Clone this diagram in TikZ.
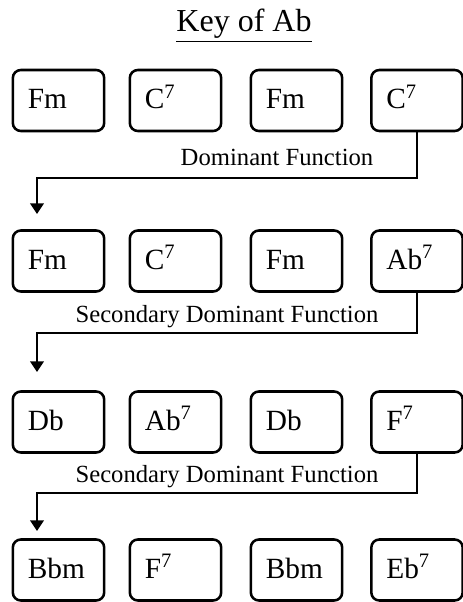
\documentclass[tikz,border=0pt]{standalone}
\usepackage{fontspec}
\setmainfont{Liberation Serif}
\usetikzlibrary{arrows.meta}
\begin{document}
\begin{tikzpicture}[x=0.75pt,y=-0.75pt,
  chord/.style={draw,line width=1.9pt,rounded corners=6pt,minimum height=45.75pt,
    text width=46pt,inner xsep=11.25pt,inner ysep=0pt,align=left,
    text height=12pt,text depth=0pt,font=\fontsize{22}{25}\selectfont},
  arr/.style={line width=1.9pt,-{Triangle[width=10pt,length=8pt]}},
  lab/.style={anchor=base,inner sep=0pt,font=\fontsize{18.5}{22}\selectfont}]
\useasboundingbox (0,0) rectangle (463,602);
\node[anchor=base,inner sep=0pt,font=\fontsize{24}{28}\selectfont] (title) at (244,32) {\underline{Key of Ab}};
% row 1
\node[chord] (a1) at (58.5,100.5) {Fm};
\node[chord] (a2) at (175.5,100.5) {C\textsuperscript{7}};
\node[chord] (a3) at (296.5,100.5) {Fm};
\node[chord] (a4) at (417,100.5) {C\textsuperscript{7}};
% row 2
\node[chord] (b1) at (58.5,261) {Fm};
\node[chord] (b2) at (175.5,261) {C\textsuperscript{7}};
\node[chord] (b3) at (296.5,261) {Fm};
\node[chord] (b4) at (417,261) {Ab\textsuperscript{7}};
% row 3
\node[chord] (c1) at (58.5,422) {Db};
\node[chord] (c2) at (175.5,422) {Ab\textsuperscript{7}};
\node[chord] (c3) at (296.5,422) {Db};
\node[chord] (c4) at (417,422) {F\textsuperscript{7}};
% row 4
\node[chord] (d1) at (58.5,570) {Bbm};
\node[chord] (d2) at (175.5,570) {F\textsuperscript{7}};
\node[chord] (d3) at (296.5,570) {Bbm};
\node[chord] (d4) at (417,570) {Eb\textsuperscript{7}};
% labels
\node[lab] (l1) at (277,166) {Dominant Function};
\node[lab] (l2) at (227,322) {Secondary Dominant Function};
\node[lab] (l3) at (227,482) {Secondary Dominant Function};
% connectors
\coordinate (t1) at (37,214);
\coordinate (t2) at (37,372);
\coordinate (t3) at (37,531);
\draw[arr] (a4.south) |- (37,178) -- (t1);
\draw[arr] (b4.south) |- (37,333) -- (t2);
\draw[arr] (c4.south) |- (37,493) -- (t3);
\end{tikzpicture}
\end{document}
